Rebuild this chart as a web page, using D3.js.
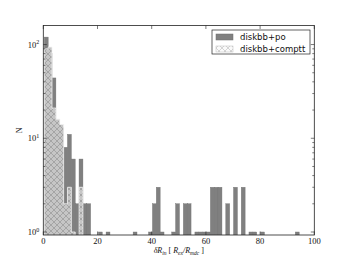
<!DOCTYPE html>
<html>
<head>
<meta charset="utf-8">
<script src="https://cdn.jsdelivr.net/npm/d3@7"></script>
<style>
  body { margin: 0; background: #fff; }
  svg { display: block; }
</style>
</head>
<body>
<div id="chart"></div>
<script>
// histogram bins (data units)
const binStart = 0.37;
const binWidth = 1.425;
// diskbb+po counts per bin
const poCounts = [120, 80, 44, 15, 13, 8, 11, 6, 2, 6, 2, 2, 0, 0, 1, 0, 1, 0, 0, 0,
  0, 0, 0, 1, 0, 0, 0, 1, 2, 3, 1, 0, 0, 1, 2, 0, 2, 2, 0, 1,
  1, 1, 1, 3, 3, 3, 0, 2, 0, 3, 0, 3, 0, 1, 1, 0, 1, 0, 0, 0,
  0, 0, 0, 0, 0, 1];
// diskbb+comptt counts per bin
const compttCounts = [90, 94, 21, 16, 14, 2, 3, 1, 0, 3, 0];
const xTicks = [0, 20, 40, 60, 80, 100];
const yTicks = [1, 10, 100];
const legendLabels = ["diskbb+po", "diskbb+comptt"];

const W = 349, H = 262;
const L = 43.3, R = 314.3, T = 25.5, B = 235;

const svg = d3.select("#chart").append("svg")
  .attr("width", W).attr("height", H);

const x = d3.scaleLinear().domain([0, 100]).range([L, R]);
const y = d3.scaleLog().domain([0.929, 159.6]).range([B, T]);

// hatch pattern
const defs = svg.append("defs");
const pat = defs.append("pattern").attr("id", "hatch")
  .attr("patternUnits", "userSpaceOnUse").attr("width", 6).attr("height", 6);
pat.append("rect").attr("width", 6).attr("height", 6).attr("fill", "#c6c6c6");
pat.append("path").attr("d", "M0,0L6,6M6,0L0,6")
  .attr("stroke", "#8e8e8e").attr("stroke-width", 0.6);
const pat2 = defs.append("pattern").attr("id", "hatchLight")
  .attr("patternUnits", "userSpaceOnUse").attr("width", 6).attr("height", 6);
pat2.append("rect").attr("width", 6).attr("height", 6).attr("fill", "#fafafa");
pat2.append("path").attr("d", "M0,0L6,6M6,0L0,6")
  .attr("stroke", "#bbb").attr("stroke-width", 0.6);

defs.append("clipPath").attr("id", "clip").append("rect")
  .attr("x", L).attr("y", T).attr("width", R - L).attr("height", B - T);

const plot = svg.append("g").attr("clip-path", "url(#clip)");

// diskbb+po bars
const poBins = poCounts.map((c, i) => ({ x0: binStart + i * binWidth, x1: binStart + (i + 1) * binWidth, c }))
  .filter(d => d.c > 0);
plot.selectAll("rect.po").data(poBins).enter().append("rect")
  .attr("class", "po")
  .attr("x", d => x(d.x0))
  .attr("width", d => x(d.x1) - x(d.x0))
  .attr("y", d => y(d.c))
  .attr("height", d => B + 2 - y(d.c))
  .attr("fill", "#808080")
  .attr("stroke", "#6e6e6e")
  .attr("stroke-width", 0.4);

// diskbb+comptt stepfilled
const pts = [];
compttCounts.forEach((c, i) => {
  const x0 = x(binStart + i * binWidth), x1 = x(binStart + (i + 1) * binWidth);
  const yy = c > 0 ? y(c) : B + 2;
  pts.push([x0, yy], [x1, yy]);
});
const first = pts[0], last = pts[pts.length - 1];
const outline = [[first[0], B + 2], ...pts, [last[0], B + 2]];
plot.append("path")
  .attr("d", d3.line()(outline) + "Z")
  .attr("fill", "url(#hatch)")
  .attr("stroke", "#f4f4f4")
  .attr("stroke-width", 0.8);

// frame
svg.append("rect").attr("x", L).attr("y", T).attr("width", R - L).attr("height", B - T)
  .attr("fill", "none").attr("stroke", "#222").attr("stroke-width", 0.8);

// x ticks (inward, bottom and top)
const tickG = svg.append("g").attr("stroke", "#222").attr("stroke-width", 0.6);
xTicks.forEach(t => {
  tickG.append("line").attr("x1", x(t)).attr("x2", x(t)).attr("y1", B).attr("y2", B - 3.5);
  tickG.append("line").attr("x1", x(t)).attr("x2", x(t)).attr("y1", T).attr("y2", T + 3.5);
});
svg.selectAll("text.xt").data(xTicks).enter().append("text")
  .attr("class", "xt")
  .attr("x", d => x(d)).attr("y", B + 9)
  .attr("text-anchor", "middle")
  .attr("font-family", "Liberation Serif, DejaVu Serif, serif")
  .attr("font-size", 8.5).attr("fill", "#111")
  .text(d => d);

// y ticks (major + minor)
yTicks.forEach(t => {
  tickG.append("line").attr("x1", L).attr("x2", L + 3.5).attr("y1", y(t)).attr("y2", y(t));
  tickG.append("line").attr("x1", R).attr("x2", R - 3.5).attr("y1", y(t)).attr("y2", y(t));
});
const minor = [];
yTicks.forEach(t => { for (let k = 2; k <= 9; k++) minor.push(t * k); });
minor.filter(v => v < 159.6).forEach(v => {
  tickG.append("line").attr("x1", L).attr("x2", L + 2).attr("y1", y(v)).attr("y2", y(v));
  tickG.append("line").attr("x1", R).attr("x2", R - 2).attr("y1", y(v)).attr("y2", y(v));
});
const yl = svg.selectAll("text.yt").data(yTicks).enter().append("text")
  .attr("class", "yt")
  .attr("x", L - 4).attr("y", d => y(d) + 3)
  .attr("text-anchor", "end")
  .attr("font-family", "Liberation Serif, DejaVu Serif, serif")
  .attr("font-size", 8.5).attr("fill", "#111");
yl.append("tspan").text("10");
yl.append("tspan").attr("dy", -3.5).attr("font-size", 6).text(d => Math.round(Math.log10(d)));

// axis labels
svg.append("text")
  .attr("transform", `translate(22,${(T + B) / 2}) rotate(-90)`)
  .attr("text-anchor", "middle")
  .attr("font-family", "Liberation Serif, DejaVu Serif, serif")
  .attr("font-size", 8).attr("fill", "#111")
  .text("N");

const xl = svg.append("text")
  .attr("x", (L + R) / 2).attr("y", 253)
  .attr("text-anchor", "middle")
  .attr("font-family", "Liberation Serif, DejaVu Serif, serif")
  .attr("font-size", 8).attr("fill", "#111");
xl.append("tspan").attr("font-style", "italic").text("δR");
xl.append("tspan").attr("dy", 2).attr("font-size", 5.5).attr("font-style", "italic").text("in");
xl.append("tspan").attr("dy", -2).text(" [ ");
xl.append("tspan").attr("font-style", "italic").text("R");
xl.append("tspan").attr("dy", 2).attr("font-size", 5.5).attr("font-style", "italic").text("ex");
xl.append("tspan").attr("dy", -2).attr("font-style", "italic").text("/R");
xl.append("tspan").attr("dy", 2).attr("font-size", 5.5).attr("font-style", "italic").text("mdc");
xl.append("tspan").attr("dy", -2).text(" ]");

// legend
const lg = svg.append("g");
lg.append("rect").attr("x", 212).attr("y", 30).attr("width", 98).attr("height", 24)
  .attr("fill", "#fff").attr("stroke", "#222").attr("stroke-width", 0.7);
const fills = ["#808080", "url(#hatchLight)"];
const strokes = ["#6e6e6e", "#bbb"];
legendLabels.forEach((lab, i) => {
  const yy = 34 + i * 12;
  lg.append("rect").attr("x", 216).attr("y", yy).attr("width", 17).attr("height", 6)
    .attr("fill", fills[i]).attr("stroke", strokes[i]).attr("stroke-width", 0.5);
  lg.append("text").attr("x", 240).attr("y", yy + 6)
    .attr("font-family", "DejaVu Sans, sans-serif")
    .attr("font-size", 8.5).attr("fill", "#111")
    .text(lab);
});
</script>
</body>
</html>
